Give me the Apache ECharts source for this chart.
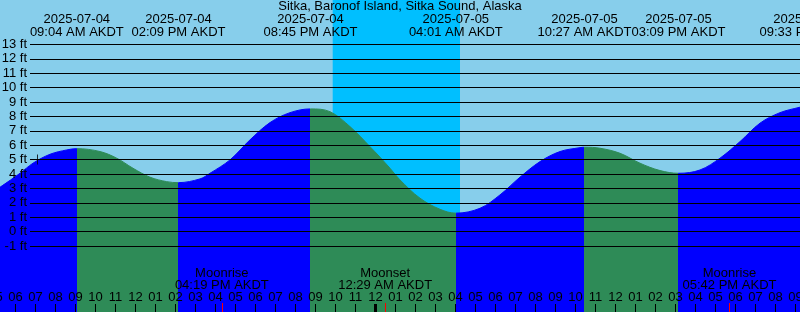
<!DOCTYPE html>
<html><head><meta charset="utf-8">
<script src="https://cdn.jsdelivr.net/npm/echarts@6/dist/echarts.min.js"></script>
<style>html,body{margin:0;padding:0;background:#87CEEB}#c{width:800px;height:312px}</style>
</head><body><div id="c"></div>
<script>
// Times are hours since 2025-07-04 00:00 AKDT
const chartTitle = 'Sitka, Baronof Island, Sitka Sound, Alaska';
const tideHours = [5.225, 6.225, 6.875, 7.725, 8.56, 9.067, 10.225, 11.06, 11.875, 12.725, 13.56, 14.15,
  15.225, 15.725, 16.725, 17.725, 18.725, 19.725, 20.75, 21.725, 22.725, 23.725, 24.225, 24.725, 25.225,
  26.225, 27.225, 28.017, 29.225, 30.225, 31.225, 32.225, 33.225, 34.225, 34.45, 35.225, 36.225, 37.225,
  38.225, 39.15, 40.225, 41.225, 42.225, 43.225, 44.225, 45.225, 45.55];
const tideFeet = [3.08, 4.05, 4.75, 5.37, 5.67, 5.76, 5.56, 5.1, 4.4, 3.78, 3.47, 3.40,
  3.66, 4.05, 4.98, 6.37, 7.57, 8.26, 8.52, 8.33, 7.29, 5.9, 5.17, 4.4, 3.59,
  2.32, 1.55, 1.28, 1.62, 2.55, 3.78, 4.86, 5.56, 5.83, 5.86, 5.79, 5.44, 4.75,
  4.24, 4.05, 4.28, 5.1, 6.25, 7.53, 8.26, 8.64, 8.75];
const eventHours = [9.067, 14.15, 20.75, 28.017, 34.45, 39.15, 45.55];
const eventKinds = ['H', 'L', 'H', 'L', 'H', 'L', 'H'];
const eventLabels = ['2025-07-04\n09:04 AM AKDT', '2025-07-04\n02:09 PM AKDT', '2025-07-04\n08:45 PM AKDT',
  '2025-07-05\n04:01 AM AKDT', '2025-07-05\n10:27 AM AKDT', '2025-07-05\n03:09 PM AKDT', '2025-07-05\n09:33 PM AKDT'];
const moonHours = [16.317, 24.483, 41.7];
const moonLabels = ['Moonrise\n04:19 PM AKDT', 'Moonset\n12:29 AM AKDT', 'Moonrise\n05:42 PM AKDT'];
const hourTicks = [4,5,6,7,8,9,10,11,12,13,14,15,16,17,18,19,20,21,22,23,24,25,26,27,28,29,30,31,32,33,34,35,36,37,38,39,40,41,42,43,44,45,46];
const hourLabels = ['04','05','06','07','08','09','10','11','12','01','02','03','04','05','06','07','08','09','10','11','12',
  '01','02','03','04','05','06','07','08','09','10','11','12','01','02','03','04','05','06','07','08','09','10'];
const midnightHours = [24];
const nightSpan = [21.86, 28.225];
const markerPoint = [7.1, 5];
const feetMin = -1, feetMax = 13;

const FONT = 'Liberation Sans';
const BLUE = '#0000FF', GREEN = '#2E8B57', NIGHT = '#00BFFF', SKY = '#87CEEB';

function findIdx(arr, v) { for (let i = 0; i < arr.length; i++) if (Math.abs(arr[i] - v) < 1e-6) return i; return -1; }

const pieces = [];
for (let i = 0; i < eventHours.length; i++) {
  const p = { lt: eventHours[i], color: eventKinds[i] === 'H' ? BLUE : GREEN };
  if (i > 0) p.gte = eventHours[i - 1];
  pieces.push(p);
}
pieces.push({ gte: eventHours[eventHours.length - 1], color: eventKinds[eventKinds.length - 1] === 'H' ? GREEN : BLUE });

const X0 = { min: 4.225, max: 46.225 };
const baseX = { type: 'value', gridIndex: 0, min: X0.min, max: X0.max, position: 'bottom', z: 10,
  axisLine: { show: false, onZero: false }, splitLine: { show: false } };

const chart = echarts.init(document.getElementById('c'), null, { renderer: 'canvas' });
chart.setOption({
  animation: false,
  backgroundColor: SKY,
  title: { text: chartTitle, left: 'center', top: 0, padding: 0,
    textStyle: { fontFamily: FONT, fontSize: 13, fontWeight: 'normal', color: '#000', lineHeight: 13 } },
  grid: [
    { left: -20, right: -20, top: 0, bottom: 0, containLabel: false, outerBoundsMode: 'none' },
    { left: 30, right: 0, top: 44.4, bottom: 66, containLabel: false, outerBoundsMode: 'none' }
  ],
  visualMap: { type: 'piecewise', show: false, dimension: 0, seriesIndex: 0, pieces: pieces },
  xAxis: [
    Object.assign({}, baseX, {
      axisTick: { show: true, inside: true, length: 8, customValues: hourTicks, lineStyle: { color: '#000', width: 1 } },
      axisLabel: { show: true, inside: true, margin: 8, customValues: hourTicks, hideOverlap: false,
        fontFamily: FONT, fontSize: 13, color: '#000',
        formatter: v => hourLabels[findIdx(hourTicks, v)] }
    }),
    Object.assign({}, baseX, {
      z: 11,
      axisTick: { show: true, inside: true, length: 9, customValues: moonHours, lineStyle: { color: '#FF0000', width: 1 } },
      axisLabel: { show: true, inside: true, margin: 20, customValues: moonHours, hideOverlap: false,
        fontFamily: FONT, fontSize: 13, lineHeight: 12.5, color: '#000', align: 'center',
        formatter: v => moonLabels[findIdx(moonHours, v)] }
    }),
    Object.assign({}, baseX, {
      position: 'top',
      axisTick: { show: false },
      axisLabel: { show: true, inside: true, margin: 12.5, customValues: eventHours, hideOverlap: false,
        fontFamily: FONT, fontSize: 13, lineHeight: 13, color: '#000', align: 'center',
        formatter: v => eventLabels[findIdx(eventHours, v)] }
    }),
    Object.assign({}, baseX, {
      z: 12,
      axisTick: { show: true, inside: true, length: 8, customValues: midnightHours, lineStyle: { color: '#000', width: 3 } },
      axisLabel: { show: false }
    }),
    { type: 'value', gridIndex: 1, min: 0, max: 1, show: false }
  ],
  yAxis: [
    { type: 'value', gridIndex: 0, min: -5.583, max: 16.083, show: false },
    { type: 'value', gridIndex: 1, min: feetMin, max: feetMax, interval: 1, z: 10,
      axisLine: { show: false }, axisTick: { show: false },
      axisLabel: { show: true, margin: 3, fontFamily: FONT, fontSize: 13, color: '#000', formatter: '{value} ft' },
      splitLine: { show: true, lineStyle: { color: '#000', width: 1 } } }
  ],
  series: [
    {
      type: 'line', xAxisIndex: 0, yAxisIndex: 0, smooth: 0.35, symbol: 'none',
      data: tideHours.map((h, i) => [h, tideFeet[i]]),
      lineStyle: { width: 1 },
      areaStyle: { origin: 'start', opacity: 1 },
      markArea: { silent: true, itemStyle: { color: NIGHT, opacity: 1 },
        data: [[{ xAxis: nightSpan[0] }, { xAxis: nightSpan[1] }]] }
    },
    {
      type: 'scatter', xAxisIndex: 0, yAxisIndex: 0, z: 20, silent: true,
      symbol: 'path://M0,4.5L10,4.5L10,5.5L0,5.5Z M4.5,0L5.5,0L5.5,10L4.5,10Z', symbolSize: 10,
      itemStyle: { color: '#000' },
      data: [markerPoint]
    }
  ]
});
</script></body></html>
